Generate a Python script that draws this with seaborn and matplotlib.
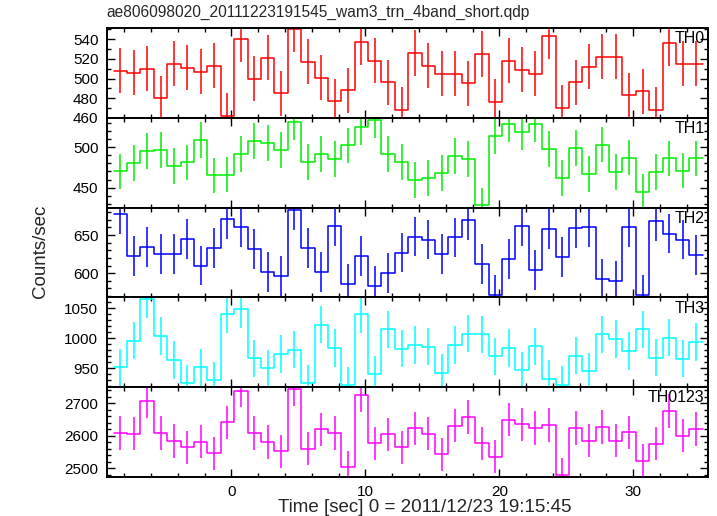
import numpy as np
import pandas as pd
import matplotlib
matplotlib.use("Agg")
import matplotlib.pyplot as plt
from matplotlib.ticker import MultipleLocator
import seaborn as sns

TITLE = "ae806098020_20111223191545_wam3_trn_4band_short.qdp"
XLABEL = "Time [sec] 0 = 2011/12/23 19:15:45"
YLABEL = "Counts/sec"

# time bins (1 s wide)
T_START = -8.3
BIN_WIDTH = 1.0
N_BINS = 44

PANELS = ["TH0", "TH1", "TH2", "TH3", "TH0123"]
COLORS = ["#ff0000", "#00ee00", "#0000ff", "#00ffff", "#ff00ff"]

TH0 = [508, 506, 510, 480, 515, 511, 507, 513, 462, 540, 500, 521, 485, 550, 517,
       501, 477, 488, 537, 518, 496, 468, 526, 513, 505, 505, 495, 525, 476, 518,
       509, 505, 543, 470, 496, 512, 522, 522, 483, 487, 468, 536, 515, 515]
TH1 = [470, 480, 495, 496, 477, 481, 509, 465, 466, 491, 507, 505, 496, 531, 482,
       491, 485, 502, 525, 533, 491, 482, 459, 462, 468, 489, 485, 428, 514, 528,
       518, 528, 498, 462, 499, 467, 503, 469, 487, 445, 469, 486, 471, 486]
TH2 = [677, 623, 634, 625, 625, 645, 610, 633, 671, 661, 632, 602, 596, 683, 633,
       602, 662, 586, 623, 583, 600, 627, 648, 644, 625, 647, 670, 612, 572, 619,
       662, 604, 658, 621, 659, 660, 592, 590, 660, 572, 668, 652, 644, 624]
TH3 = [952, 996, 1065, 1004, 964, 925, 952, 930, 1040, 1049, 967, 950, 974, 981,
       925, 1023, 984, 922, 1040, 940, 1015, 983, 989, 986, 943, 989, 1008, 1007,
       970, 984, 947, 987, 933, 923, 971, 945, 1007, 999, 979, 1015, 968, 1001,
       966, 994]
TH0123 = [2609, 2607, 2706, 2609, 2584, 2565, 2582, 2546, 2641, 2739, 2609, 2581,
          2553, 2743, 2561, 2620, 2609, 2503, 2724, 2577, 2605, 2565, 2623, 2607,
          2543, 2631, 2658, 2577, 2536, 2650, 2636, 2624, 2633, 2481, 2624, 2585,
          2627, 2585, 2611, 2524, 2576, 2676, 2600, 2621]
SERIES = [TH0, TH1, TH2, TH3, TH0123]

# one-sigma error per band (counts/sec)
ERRORS = [23, 22, 26, 31, 51]

YLIMS = [(460, 551.4), (425.4, 536), (568.3, 686), (918.5, 1068.5), (2473.6, 2749.4)]
YMAJOR = [20, 50, 50, 50, 100]
YMINOR = [10, 10, 10, 10, 20]
XLIM = (-9.32, 35.55)
XTICKS = [0, 10, 20, 30]

sns.set_theme(style="ticks")
plt.rcParams["font.family"] = ["Liberation Sans", "DejaVu Sans"]

W, H = 717, 516
fig = plt.figure(figsize=(W / 100, H / 100), dpi=100)

left_px, right_px = 106.7, 707.5
top_px, bottom_px = 28.0, 477.0
ph = (bottom_px - top_px) / len(PANELS)

time = T_START + np.arange(N_BINS) * BIN_WIDTH
edges = np.concatenate([time - BIN_WIDTH / 2, [time[-1] + BIN_WIDTH / 2]])

axes = []
for i, (name, vals, col, err) in enumerate(zip(PANELS, SERIES, COLORS, ERRORS)):
    y0 = top_px + i * ph
    ax = fig.add_axes([left_px / W, 1 - (y0 + ph) / H, (right_px - left_px) / W, ph / H])
    axes.append(ax)
    vals = np.asarray(vals, dtype=float)
    step_df = pd.DataFrame({"t": edges, "rate": np.append(vals, vals[-1])})
    sns.lineplot(data=step_df, x="t", y="rate", ax=ax, color=col, lw=1.1,
                 drawstyle="steps-post", estimator=None, sort=False)
    ax.errorbar(time, vals, yerr=err, fmt="none", ecolor=col, elinewidth=1.1)
    ax.set_xlim(*XLIM)
    ax.set_ylim(*YLIMS[i])
    ax.xaxis.set_major_locator(MultipleLocator(10))
    ax.xaxis.set_minor_locator(MultipleLocator(2))
    ax.yaxis.set_major_locator(MultipleLocator(YMAJOR[i]))
    ax.yaxis.set_minor_locator(MultipleLocator(YMINOR[i]))
    ax.tick_params(which="both", direction="in", top=True, right=True,
                   labelsize=11, colors="black", width=1.0, pad=6)
    ax.tick_params(which="major", length=6)
    ax.tick_params(which="minor", length=3)
    for s in ax.spines.values():
        s.set_linewidth(1.4)
        s.set_color("black")
    ax.set_xlabel("")
    ax.set_ylabel("")
    if i < len(PANELS) - 1:
        ax.tick_params(labelbottom=False)
    ax.text(0.995, 0.88, name, transform=ax.transAxes, ha="right", va="center",
            fontsize=11.5, color="black")

axes[-1].set_xticks(XTICKS)
axes[-1].set_xticklabels([str(v) for v in XTICKS])

fig.text(left_px / W, 1 - 12 / H, TITLE, ha="left", va="center", fontsize=11.2)
fig.text(424.5 / W, 1 - 507 / H, XLABEL, ha="center", va="center", fontsize=13.5)
fig.text(41 / W, 1 - 251 / H, YLABEL, ha="center", va="center", rotation=90, fontsize=13.5)

fig.savefig("out.png", dpi=100, facecolor="white")
